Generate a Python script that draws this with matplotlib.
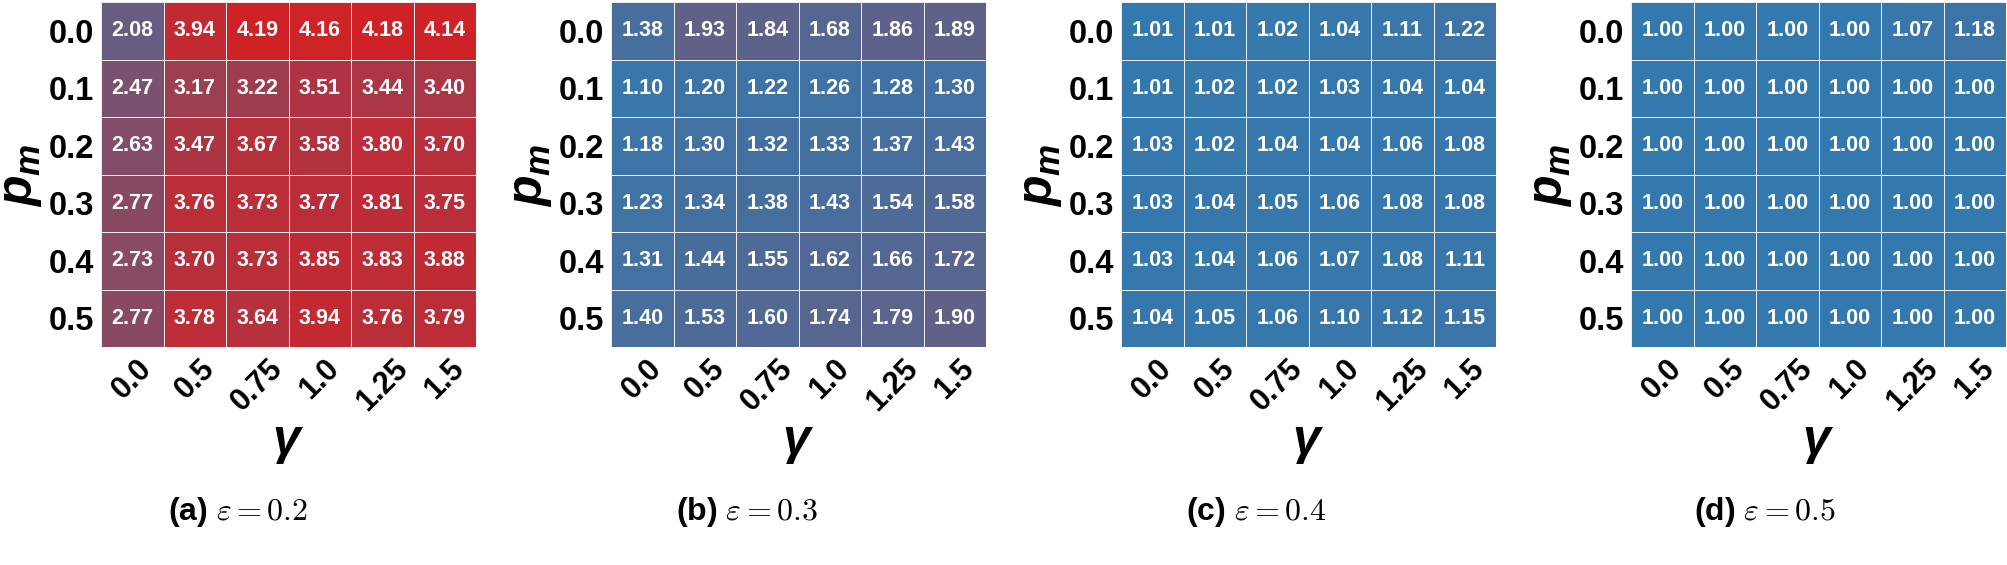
import numpy as np
import matplotlib
matplotlib.use("Agg")
import matplotlib.pyplot as plt
from matplotlib.colors import LinearSegmentedColormap, Normalize

plt.rcParams['font.family'] = ['Liberation Sans', 'DejaVu Sans']
plt.rcParams['mathtext.fontset'] = 'custom'
plt.rcParams['mathtext.it'] = 'Liberation Sans:italic:bold'
plt.rcParams['mathtext.rm'] = 'Liberation Sans:bold'

gammas = ['0.0', '0.5', '0.75', '1.0', '1.25', '1.5']
p_ms = ['0.0', '0.1', '0.2', '0.3', '0.4', '0.5']
eps_labels = ['(a)', '(b)', '(c)', '(d)']
eps_values = ['0.2', '0.3', '0.4', '0.5']

vals_a = [[2.08, 3.94, 4.19, 4.16, 4.18, 4.14],
          [2.47, 3.17, 3.22, 3.51, 3.44, 3.40],
          [2.63, 3.47, 3.67, 3.58, 3.80, 3.70],
          [2.77, 3.76, 3.73, 3.77, 3.81, 3.75],
          [2.73, 3.70, 3.73, 3.85, 3.83, 3.88],
          [2.77, 3.78, 3.64, 3.94, 3.76, 3.79]]
vals_b = [[1.38, 1.93, 1.84, 1.68, 1.86, 1.89],
          [1.10, 1.20, 1.22, 1.26, 1.28, 1.30],
          [1.18, 1.30, 1.32, 1.33, 1.37, 1.43],
          [1.23, 1.34, 1.38, 1.43, 1.54, 1.58],
          [1.31, 1.44, 1.55, 1.62, 1.66, 1.72],
          [1.40, 1.53, 1.60, 1.74, 1.79, 1.90]]
vals_c = [[1.01, 1.01, 1.02, 1.04, 1.11, 1.22],
          [1.01, 1.02, 1.02, 1.03, 1.04, 1.04],
          [1.03, 1.02, 1.04, 1.04, 1.06, 1.08],
          [1.03, 1.04, 1.05, 1.06, 1.08, 1.08],
          [1.03, 1.04, 1.06, 1.07, 1.08, 1.11],
          [1.04, 1.05, 1.06, 1.10, 1.12, 1.15]]
vals_d = [[1.00, 1.00, 1.00, 1.00, 1.07, 1.18],
          [1.00, 1.00, 1.00, 1.00, 1.00, 1.00],
          [1.00, 1.00, 1.00, 1.00, 1.00, 1.00],
          [1.00, 1.00, 1.00, 1.00, 1.00, 1.00],
          [1.00, 1.00, 1.00, 1.00, 1.00, 1.00],
          [1.00, 1.00, 1.00, 1.00, 1.00, 1.00]]
panels = [vals_a, vals_b, vals_c, vals_d]

cmap = LinearSegmentedColormap.from_list('br', ['#3479ae', '#cf2226'])
norm = Normalize(vmin=1.0, vmax=4.19)

W, H = 2007, 565
fig = plt.figure(figsize=(W / 100, H / 100), dpi=100)

for i, vals in enumerate(panels):
    data = np.array(vals)
    x0 = 101 + 510 * i
    ax = fig.add_axes([x0 / W, (565 - 347) / H, 375 / W, 345 / H])
    ax.pcolormesh(data, cmap=cmap, norm=norm, edgecolors='#ececec', linewidth=0.5)
    ax.set_xlim(0, 6)
    ax.set_ylim(6, 0)
    for r in range(6):
        for c in range(6):
            ax.text(c + 0.5, r + 0.5, f"{data[r, c]:.2f}", ha='center', va='center',
                    color='white', fontsize=15.5, fontweight='bold')
    ax.set_xticks(np.arange(6) + 0.5)
    ax.set_xticklabels(gammas, rotation=45, ha='center', fontsize=22, fontweight='bold')
    ax.set_yticks(np.arange(6) + 0.5)
    ax.set_yticklabels(p_ms, fontsize=23.5, fontweight='bold')
    ax.tick_params(length=0, pad=5)
    for s in ax.spines.values():
        s.set_visible(False)
    ax.set_xlabel(r'$\gamma$', fontsize=36, labelpad=2)
    # y label placed by hand so it stays inside the figure
    fig.text((x0 - 80) / W, 1 - 175 / H, r'$p_m$', rotation=90,
             ha='center', va='center', fontsize=36)
    fig.text((238 + 509 * i) / W, 1 - 512 / H,
             f"{eps_labels[i]} " + r"$\varepsilon = " + eps_values[i] + "$",
             ha='center', va='center', fontsize=23, fontweight='bold',
             math_fontfamily='cm')

fig.savefig('out.png', dpi=100)
